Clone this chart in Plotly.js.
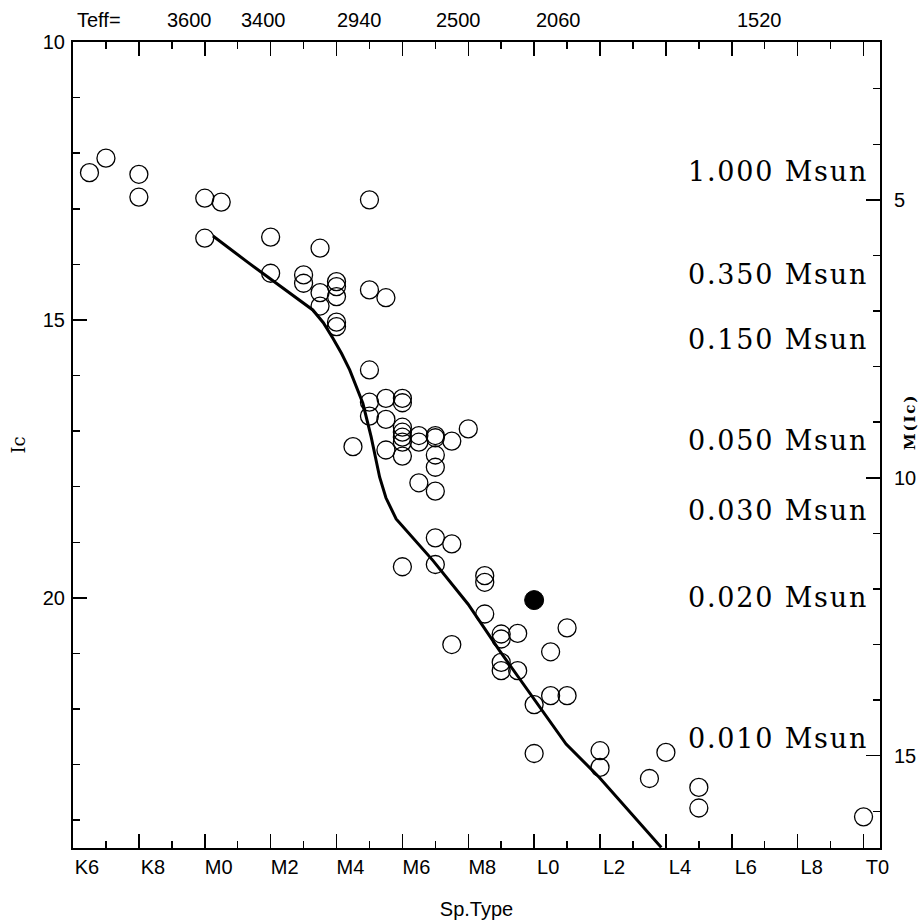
<!DOCTYPE html>
<html>
<head>
<meta charset="utf-8">
<script src="https://cdn.plot.ly/plotly-3.0.1.min.js"></script>
<style>
  html, body { margin: 0; padding: 0; background: #fff; }
  #chart { width: 920px; height: 921px; }
  text.annotation-text[style*="DejaVu Serif"] { letter-spacing: 1.8px; }
</style>
</head>
<body>
<div id="chart"></div>
<script>
// Spectral type axis: numeric scale with M0 = 0, L0 = 10, T0 = 20
const spTickVals   = [-4, -2, 0, 2, 4, 6, 8, 10, 12, 14, 16, 18, 20];
const spTickLabels = ['K6', 'K8', 'M0', 'M2', 'M4', 'M6', 'M8', 'L0', 'L2', 'L4', 'L6', 'L8', 'T0'];

// Teff labels along the top
const teffPos    = [-1.2, 1.05, 3.95, 6.95, 10.0, 16.1];
const teffLabels = ['3600', '3400', '2940', '2500', '2060', '1520'];

// Observed objects (open circles): spectral type and Ic magnitude
const objSpT = [
  -3.5, -3.0, -2.0, -2.0, 0.0, 0.5, 0.0, 5.0, 2.0, 3.5,
  2.0, 3.0, 3.0, 3.5, 3.5, 4.0, 4.0, 4.0, 4.0, 4.0,
  5.0, 5.5, 5.0, 5.0, 5.0, 5.5, 6.0, 6.0, 5.5, 4.5,
  5.5, 6.0, 6.0, 6.0, 6.0, 6.0, 6.5, 6.5, 6.5, 7.0,
  7.0, 7.0, 7.0, 7.0, 7.5, 8.0, 7.0, 7.5, 6.0, 7.0,
  8.5, 8.5, 8.5, 9.0, 9.0, 9.5, 11.0, 10.5, 7.5, 9.0,
  9.0, 9.5, 10.0, 10.5, 11.0, 10.0, 12.0, 12.0, 13.5, 14.0,
  15.0, 15.0, 20.0
];
const objIc = [
  12.35, 12.09, 12.38, 12.79, 12.81, 12.88, 13.53, 12.84, 13.51, 13.71,
  14.16, 14.19, 14.34, 14.51, 14.75, 14.31, 14.40, 14.58, 15.04, 15.12,
  14.46, 14.60, 15.90, 16.48, 16.73, 16.41, 16.41, 16.49, 16.79, 17.28,
  17.34, 16.93, 17.02, 17.11, 17.20, 17.45, 17.08, 17.20, 17.93, 17.08,
  17.12, 17.43, 17.65, 18.08, 17.18, 16.96, 18.92, 19.03, 19.44, 19.40,
  19.60, 19.72, 20.29, 20.65, 20.74, 20.64, 20.54, 20.97, 20.84, 21.16,
  21.31, 21.31, 21.92, 21.76, 21.76, 22.80, 22.75, 23.05, 23.25, 22.78,
  23.41, 23.78, 23.94
];

// Highlighted object (filled circle)
const starSpT = [10.0];
const starIc  = [20.04];

// Reference sequence (solid curve)
const seqSpT = [0.25, 1.3, 3.28, 3.6, 3.89, 4.15, 4.40, 4.8, 5.05, 5.2, 5.31, 5.5, 5.81, 6.93, 7.99, 8.95, 9.96, 10.97, 11.98, 13.86];
const seqIc  = [13.49, 13.96, 14.82, 15.05, 15.33, 15.6, 15.90, 16.5, 17.1, 17.5, 17.83, 18.2, 18.58, 19.33, 20.11, 20.95, 21.79, 22.63, 23.23, 24.49];

// Mass labels on the right
const massLabels = ['1.000 Msun', '0.350 Msun', '0.150 Msun', '0.050 Msun', '0.030 Msun', '0.020 Msun', '0.010 Msun'];
const massIc     = [12.33, 14.19, 15.36, 17.16, 18.42, 20.0, 22.53];

// Absolute magnitude axis
const absTickVals = [5, 10, 15];
const distOffset  = 7.84;

const icRange = [24.5, 10];
const sansFont = 'Liberation Sans, Arial, sans-serif';

const traces = [
  {
    x: objSpT, y: objIc, type: 'scatter', mode: 'markers', name: 'objects',
    marker: { symbol: 'circle', size: 18, color: 'rgba(0,0,0,0)', line: { color: '#000', width: 1.3 } },
    showlegend: false
  },
  {
    x: seqSpT, y: seqIc, type: 'scatter', mode: 'lines', name: 'sequence',
    line: { color: '#000', width: 3 }, showlegend: false
  },
  {
    x: starSpT, y: starIc, type: 'scatter', mode: 'markers', name: 'target',
    marker: { symbol: 'circle', size: 19, color: '#000', line: { color: '#000', width: 1 } },
    showlegend: false
  },
  {
    x: [], y: [], xaxis: 'x2', yaxis: 'y2', type: 'scatter', mode: 'markers',
    showlegend: false, hoverinfo: 'skip'
  }
];

const annotations = massLabels.map((t, i) => ({
  text: t, xref: 'paper', x: 0.988, xanchor: 'right',
  yref: 'y', y: massIc[i], yanchor: 'middle', showarrow: false,
  font: { family: 'DejaVu Serif', size: 27, color: '#000' }
}));
annotations.push({
  text: 'Teff=', xref: 'x', x: -3.95, xanchor: 'left',
  yref: 'paper', y: 1.0, yshift: 22, yanchor: 'middle', showarrow: false,
  font: { family: sansFont, size: 20, color: '#000' }
});
teffLabels.forEach((t, i) => annotations.push({
  text: t, xref: 'x', x: teffPos[i], xanchor: 'left',
  yref: 'paper', y: 1.0, yshift: 22, yanchor: 'middle', showarrow: false,
  font: { family: sansFont, size: 20, color: '#000' }
}));
annotations.push({
  text: '<b>M(Ic)</b>', xref: 'paper', x: 1.037, xanchor: 'center',
  yref: 'paper', y: 0.5285, yanchor: 'middle', textangle: -90, showarrow: false,
  font: { family: 'DejaVu Serif', size: 15, color: '#000' }
});

const axisCommon = {
  showgrid: false, zeroline: false, showline: true, linecolor: '#000', linewidth: 2,
  ticks: 'inside', ticklen: 14, tickwidth: 1.5, tickcolor: '#000',
  tickfont: { family: sansFont, size: 20, color: '#000' }
};
const minorTicks = { dtick: 1, tick0: 0, ticks: 'inside', ticklen: 7, tickwidth: 1.5, tickcolor: '#000' };

const layout = {
  width: 920, height: 921,
  margin: { l: 73, r: 40, t: 42, b: 73, pad: 0 },
  paper_bgcolor: '#fff', plot_bgcolor: '#fff',
  showlegend: false,
  xaxis: Object.assign({}, axisCommon, {
    range: [-4, 20.5], tickmode: 'array', tickvals: spTickVals, ticktext: spTickLabels,
    mirror: 'ticks', ticklabelshift: 14, ticklabelstandoff: 0,
    minor: minorTicks,
    title: { text: 'Sp.Type', font: { family: sansFont, size: 20, color: '#000' }, standoff: 25 }
  }),
  yaxis: Object.assign({}, axisCommon, {
    range: icRange, tickmode: 'array', tickvals: [10, 15, 20],
    ticklabelstandoff: 2,
    minor: minorTicks,
    title: { text: 'Ic', font: { family: 'DejaVu Serif', size: 18, color: '#000' }, standoff: 12 }
  }),
  xaxis2: {
    overlaying: 'x', side: 'top', range: [-4, 20.5], showticklabels: false, ticks: '',
    showgrid: false, zeroline: false, showline: false
  },
  yaxis2: Object.assign({}, axisCommon, {
    overlaying: 'y', side: 'right', anchor: 'x',
    range: [icRange[0] - distOffset, icRange[1] - distOffset],
    tickmode: 'array', tickvals: absTickVals, ticklabelstandoff: 8,
    minor: minorTicks
  }),
  annotations: annotations
};

Plotly.newPlot('chart', traces, layout, { displayModeBar: false, staticPlot: true });
</script>
</body>
</html>
